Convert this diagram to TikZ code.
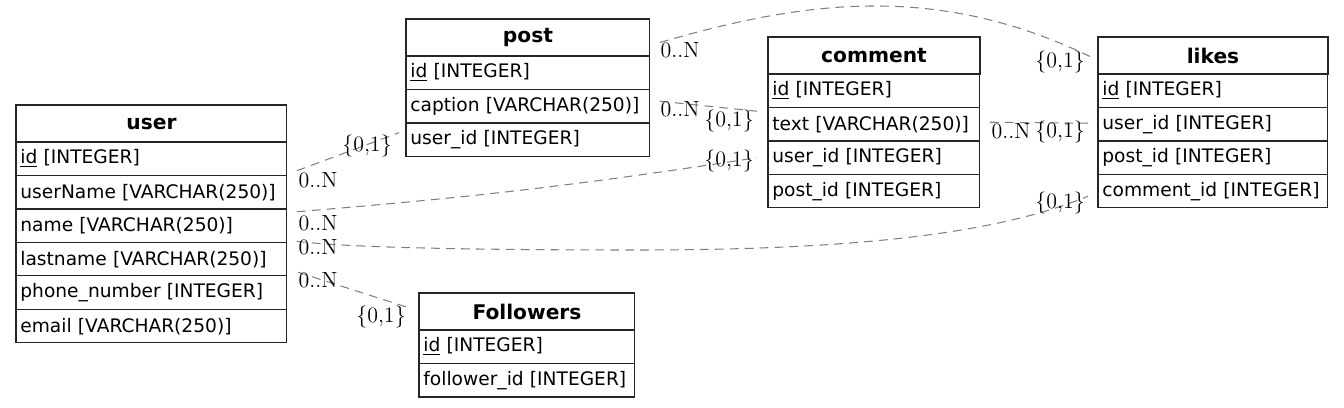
\documentclass[tikz,border=0pt]{standalone}
\usepackage{fontspec}
\newfontfamily\tblfont{DejaVu Sans}
\usetikzlibrary{positioning}

\tikzset{
  tblhead/.style={draw=black!85, line width=0.6pt, outer sep=0pt, inner sep=0pt,
    minimum width=#1, minimum height=0.74cm, anchor=north west,
    font=\tblfont\bfseries\fontsize{11.5}{13}\selectfont},
  tblrow/.style={draw=black!85, line width=0.6pt, outer sep=0pt, inner xsep=2.5pt, inner ysep=0pt,
    text width=#1, minimum height=0.67cm, align=left,
    font=\tblfont\fontsize{10.6}{12}\selectfont},
  rel/.style={draw=black!50, line width=0.6pt, dash pattern=on 5pt off 3.5pt},
  card/.style={inner sep=0pt, font=\fontsize{12.5}{14}\selectfont}
}

\begin{document}
\begin{tikzpicture}[x=0.02cm,y=-0.02cm]
  \useasboundingbox (0,0) rectangle (1344,408);

  % user table
  \node[tblhead=5.42cm] (user) at (16,105) {user};
  \node[tblrow=5.244cm, below=0pt of user] (user-id) {\underline{id} [INTEGER]};
  \node[tblrow=5.244cm, below=0pt of user-id] (user-uname) {userName [VARCHAR(250)]};
  \node[tblrow=5.244cm, below=0pt of user-uname] (user-name) {name [VARCHAR(250)]};
  \node[tblrow=5.244cm, below=0pt of user-name] (user-last) {lastname [VARCHAR(250)]};
  \node[tblrow=5.244cm, below=0pt of user-last] (user-phone) {phone\_number [INTEGER]};
  \node[tblrow=5.244cm, below=0pt of user-phone] (user-mail) {email [VARCHAR(250)]};

  % post table
  \node[tblhead=4.88cm] (post) at (406,19) {post};
  \node[tblrow=4.704cm, below=0pt of post] (post-id) {\underline{id} [INTEGER]};
  \node[tblrow=4.704cm, below=0pt of post-id] (post-cap) {caption [VARCHAR(250)]};
  \node[tblrow=4.704cm, below=0pt of post-cap] (post-uid) {user\_id [INTEGER]};

  % comment table
  \node[tblhead=4.24cm] (comment) at (768,37) {comment};
  \node[tblrow=4.064cm, below=0pt of comment] (comment-id) {\underline{id} [INTEGER]};
  \node[tblrow=4.064cm, below=0pt of comment-id] (comment-text) {text [VARCHAR(250)]};
  \node[tblrow=4.064cm, below=0pt of comment-text] (comment-uid) {user\_id [INTEGER]};
  \node[tblrow=4.064cm, below=0pt of comment-uid] (comment-pid) {post\_id [INTEGER]};

  % likes table
  \node[tblhead=4.60cm] (likes) at (1098,37) {likes};
  \node[tblrow=4.424cm, below=0pt of likes] (likes-id) {\underline{id} [INTEGER]};
  \node[tblrow=4.424cm, below=0pt of likes-id] (likes-uid) {user\_id [INTEGER]};
  \node[tblrow=4.424cm, below=0pt of likes-uid] (likes-pid) {post\_id [INTEGER]};
  \node[tblrow=4.424cm, below=0pt of likes-pid] (likes-cid) {comment\_id [INTEGER]};

  % Followers table
  \node[tblhead=4.32cm] (fol) at (419,293) {Followers};
  \node[tblrow=4.144cm, below=0pt of fol] (fol-id) {\underline{id} [INTEGER]};
  \node[tblrow=4.144cm, below=0pt of fol-id] (fol-fid) {follower\_id [INTEGER]};

  % relations
  \draw[rel] ([shift={(10,12)}]user-id.east) -- ([shift={(-7,-7)}]post-uid.west);
  \draw[rel] ([shift={(10,5)}]post.east) .. controls +(150,-44) and +(-150,-72) .. ([shift={(-8,1)}]likes.west);
  \draw[rel] ([shift={(10,-5)}]post-cap.east) -- ([shift={(-11,-13)}]comment-text.west);
  \draw[rel] ([shift={(10,-14)}]user-name.east) to[bend right=2] ([shift={(-11,0)}]comment-uid.west);
  \coordinate (dip) at (640,250);
  \draw[rel] ([shift={(10,-18)}]user-last.east) .. controls +(60,8) and +(-100,0) .. (dip)
    .. controls +(240,0) and +(-80,33) .. ([shift={(-10,5)}]likes-cid.west);
  \draw[rel] ([shift={(11,13)}]user-last.east) -- ([shift={(-11,-4)}]fol.west);
  \draw[rel] ([shift={(10,-2)}]comment-text.east) -- ([shift={(-10,-1)}]likes-uid.west);

  % cardinalities
  \node[card] (c1a) at (318,180) {0..N};
  \node[card] (c1b) at (367,146) {\{0,1\}};
  \node[card] (c2a) at (680,50) {0..N};
  \node[card] (c2b) at (1060,62) {\{0,1\}};
  \node[card] (c3a) at (680,109) {0..N};
  \node[card] (c3b) at (729,121) {\{0,1\}};
  \node[card] (c4a) at (318,223) {0..N};
  \node[card] (c4b) at (729,161) {\{0,1\}};
  \node[card] (c5a) at (318,247) {0..N};
  \node[card] (c5b) at (1060,203) {\{0,1\}};
  \node[card] (c6a) at (318,280) {0..N};
  \node[card] (c6b) at (381,317) {\{0,1\}};
  \node[card] (c7a) at (1011,131) {0..N};
  \node[card] (c7b) at (1060,132) {\{0,1\}};

\end{tikzpicture}
\end{document}
